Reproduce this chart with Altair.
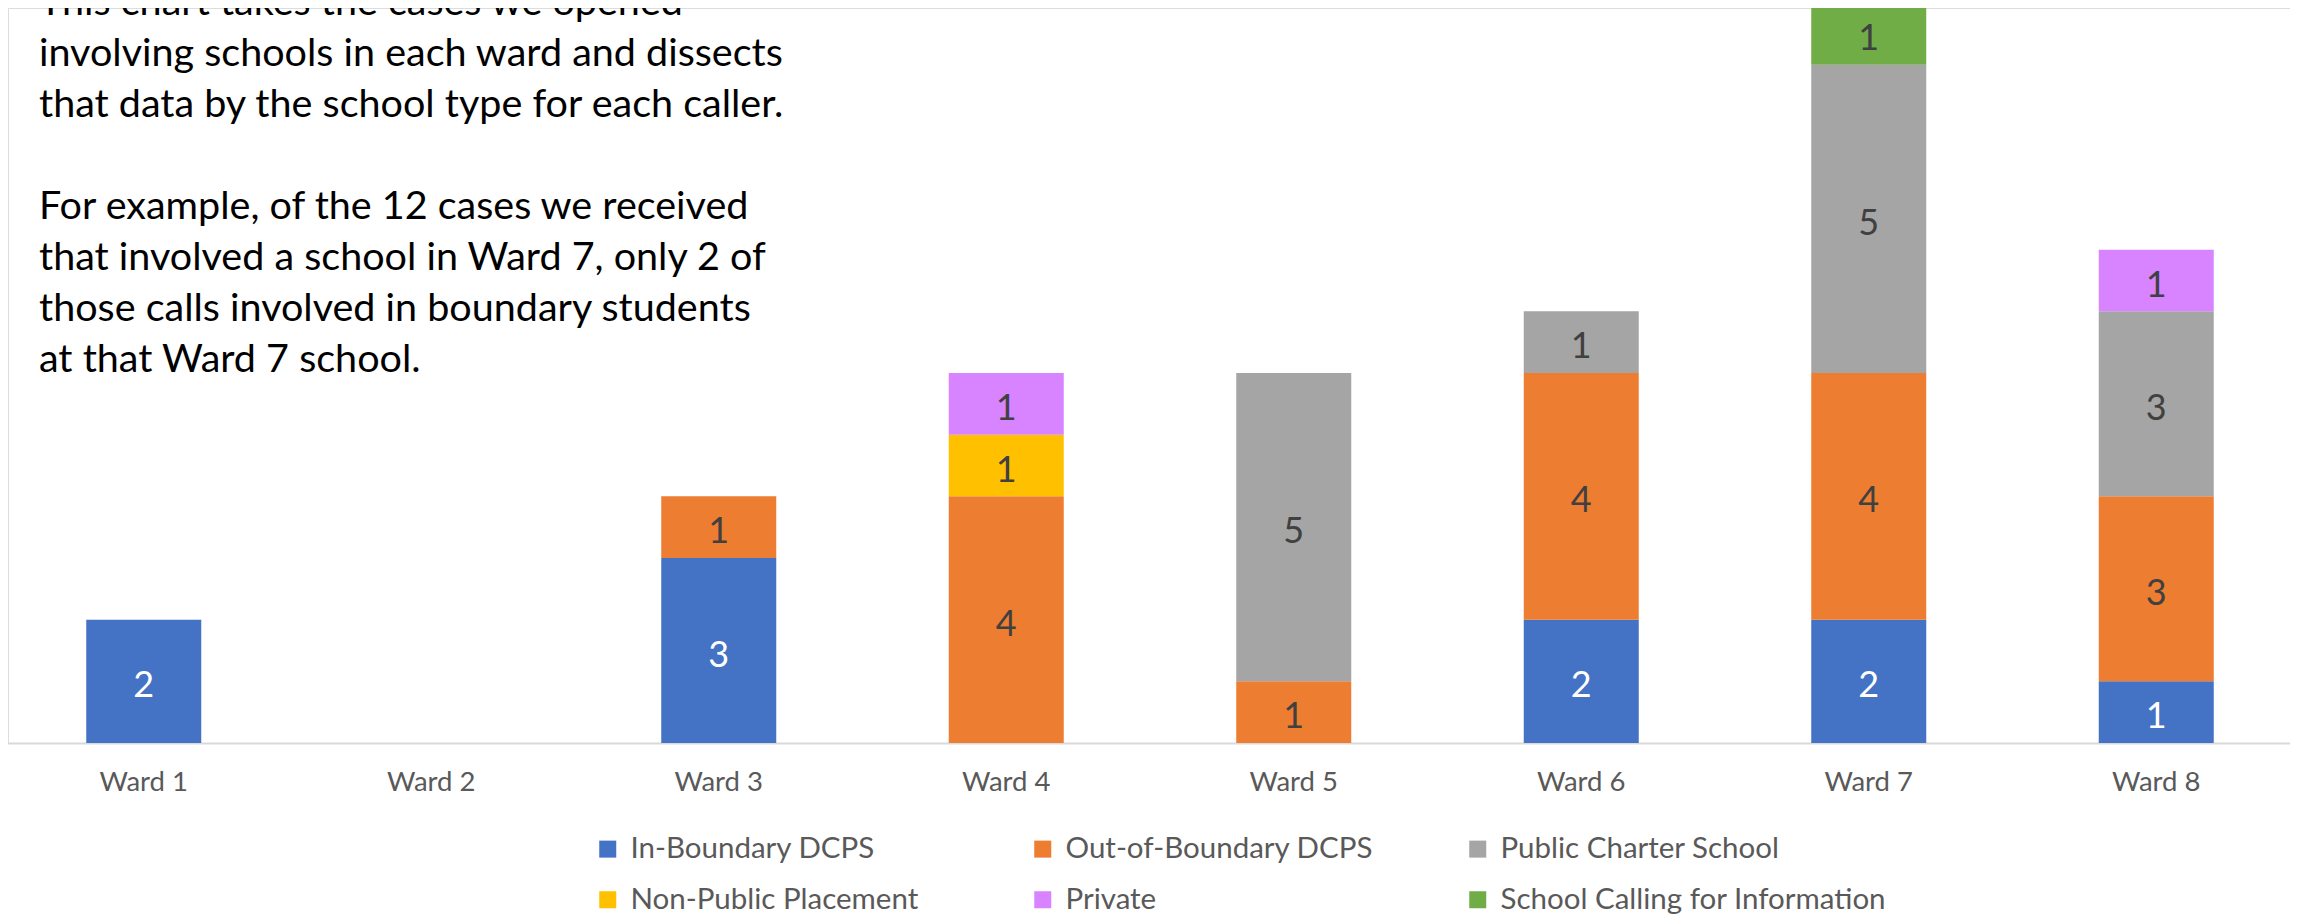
import altair as alt
import pandas as pd

wards = ["Ward 1", "Ward 2", "Ward 3", "Ward 4", "Ward 5", "Ward 6", "Ward 7", "Ward 8"]
categories = [
    "In-Boundary DCPS",
    "Out-of-Boundary DCPS",
    "Public Charter School",
    "Non-Public Placement",
    "Private",
    "School Calling for Information",
]
colors = ["#4472C4", "#ED7D31", "#A5A5A5", "#FFC000", "#D883FF", "#70AD47"]

in_boundary = [2, 0, 3, 0, 0, 2, 2, 1]
out_of_boundary = [0, 0, 1, 4, 1, 4, 4, 3]
public_charter = [0, 0, 0, 0, 5, 1, 5, 3]
non_public = [0, 0, 0, 1, 0, 0, 0, 0]
private = [0, 0, 0, 1, 0, 0, 0, 1]
school_calling = [0, 0, 0, 0, 0, 0, 1, 0]

note_paragraph_1 = [
    "This chart takes the cases we opened",
    "involving schools in each ward and dissects",
    "that data by the school type for each caller.",
]
note_paragraph_2 = [
    "For example, of the 12 cases we received",
    "that involved a school in Ward 7, only 2 of",
    "those calls involved in boundary students",
    "at that Ward 7 school.",
]

series = [in_boundary, out_of_boundary, public_charter, non_public, private, school_calling]
rows = []
for ci, (cat, vals) in enumerate(zip(categories, series)):
    for w, v in zip(wards, vals):
        if v > 0:
            rows.append({"ward": w, "type": cat, "idx": ci, "count": v})
df = pd.DataFrame(rows)

FONT = "Lato"
LINE_H = 51
NOTE_Y = 7

base = alt.Chart(df).transform_stack(
    stack="count",
    groupby=["ward"],
    as_=["y0", "y1"],
    sort=[alt.SortField("idx", order="ascending")],
).transform_calculate(mid="(datum.y0 + datum.y1) / 2")

x_scale = alt.Scale(domain=wards, range=[-8, 2292], paddingInner=0.6, paddingOuter=0.3)
x_enc = alt.X(
    "ward:N",
    scale=x_scale,
    axis=alt.Axis(
        title=None,
        ticks=False,
        tickSize=0,
        labelAngle=0,
        labelFont=FONT,
        labelFontSize=27.5,
        labelColor="#595959",
        labelBaseline="alphabetic",
        labelPadding=47,
        domainColor="#D9D9D9",
        domainWidth=2,
        grid=False,
    ),
)
y_scale = alt.Scale(domain=[0, 12], range=[735, -5], nice=False, zero=True)

bars = base.mark_bar(stroke=None).encode(
    x=x_enc,
    y=alt.Y("y0:Q", scale=y_scale, axis=None),
    y2="y1:Q",
    color=alt.Color(
        "type:N",
        scale=alt.Scale(domain=categories, range=colors),
        legend=alt.Legend(
            title=None,
            orient="none",
            legendX=585,
            legendY=826,
            direction="horizontal",
            columns=3,
            gridAlign="all",
            columnPadding=11,
            rowPadding=20,
            padding=0,
            symbolType="square",
            symbolSize=289,
            symbolStrokeWidth=0,
            symbolOpacity=1,
            labelFont=FONT,
            labelFontSize=29.5,
            labelColor="#595959",
            labelOffset=8,
            labelLimit=600,
        ),
    ),
)

labels = base.mark_text(font=FONT, fontSize=36, baseline="middle", align="center", dy=5).encode(
    x=alt.X("ward:N", scale=x_scale),
    y=alt.Y("mid:Q", scale=y_scale),
    text=alt.Text("count:Q"),
    color=alt.condition(
        alt.datum.type == "In-Boundary DCPS", alt.value("#FFFFFF"), alt.value("#404040")
    ),
)

note_src = pd.DataFrame({"a": [0]})
note_style = dict(
    font=FONT,
    fontSize=39.5,
    align="left",
    baseline="alphabetic",
    lineHeight=LINE_H,
    color="#000000",
)
note1 = alt.Chart(note_src).mark_text(text=note_paragraph_1, **note_style).encode(
    x=alt.value(31), y=alt.value(NOTE_Y)
)
note2 = alt.Chart(note_src).mark_text(text=note_paragraph_2, **note_style).encode(
    x=alt.value(31), y=alt.value(NOTE_Y + 4 * LINE_H)
)

chart = (
    alt.layer(bars, labels, note1, note2)
    .properties(
        width=2282,
        height=735,
        padding={"left": 0, "top": 0, "right": 0, "bottom": 171},
        autosize=alt.AutoSizeParams(type="none"),
    )
    .configure_view(stroke=None)
    .configure(background="#FFFFFF")
)

chart.save("out.html", embed_options={"renderer": "svg", "actions": False})
